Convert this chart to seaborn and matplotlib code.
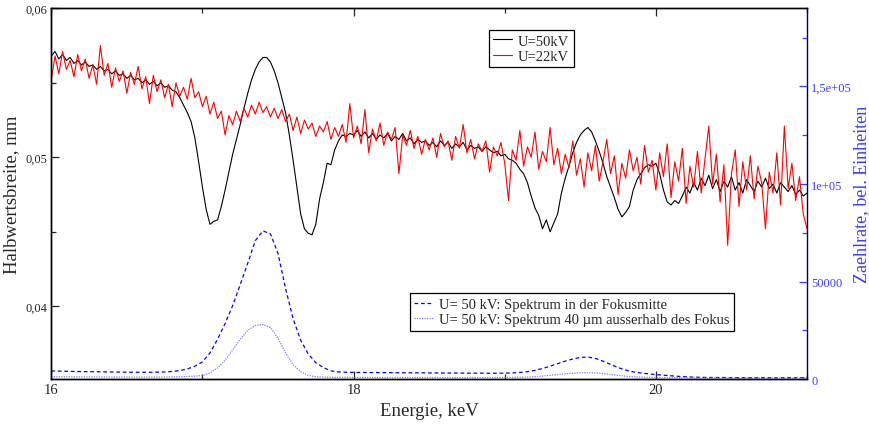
import numpy as np
import pandas as pd
import matplotlib
matplotlib.use('Agg')
import matplotlib.pyplot as plt
from matplotlib.ticker import MultipleLocator, FixedLocator, FixedFormatter
import seaborn as sns

# Halbwertsbreite (mm), sampled every 0.025 keV from 16 to 21 keV
energy = np.linspace(16, 21, 201)

fwhm_50kv = [
    0.0568, 0.0571, 0.0566, 0.0569, 0.0565, 0.0567, 0.0563, 0.0565, 0.0562, 0.0564,
    0.0561, 0.0562, 0.0559, 0.0561, 0.0558, 0.0559, 0.0556, 0.0558, 0.0555, 0.0556,
    0.0553, 0.0555, 0.0552, 0.0553, 0.0550, 0.0552, 0.0549, 0.0551, 0.0548, 0.0550,
    0.0547, 0.0548, 0.0545, 0.0544, 0.0540, 0.0535, 0.0530, 0.0524, 0.0513, 0.0497,
    0.0480, 0.0465, 0.0455, 0.0457, 0.0458, 0.0467, 0.0478, 0.0490, 0.0502, 0.0512,
    0.0522, 0.0533, 0.0543, 0.0552, 0.0559, 0.0564, 0.0567, 0.0567, 0.0564, 0.0558,
    0.0550, 0.0540, 0.0530, 0.0515, 0.0498, 0.0480, 0.0462, 0.0452, 0.0449, 0.0448,
    0.0455, 0.0472, 0.0483, 0.0496, 0.0495, 0.0505, 0.0511, 0.0515, 0.0514, 0.0516,
    0.0515, 0.0518, 0.0514, 0.0517, 0.0513, 0.0516, 0.0512, 0.0515, 0.0513, 0.0516,
    0.0511, 0.0514, 0.0512, 0.0516, 0.0511, 0.0513, 0.0509, 0.0512, 0.0510, 0.0511,
    0.0508, 0.0510, 0.0507, 0.0511, 0.0508, 0.0510, 0.0506, 0.0509, 0.0507, 0.0510,
    0.0505, 0.0508, 0.0506, 0.0507, 0.0504, 0.0507, 0.0505, 0.0503, 0.0504, 0.0501,
    0.0502, 0.0499, 0.0498, 0.0496, 0.0492, 0.0489, 0.0483, 0.0474, 0.0466, 0.0461,
    0.0452, 0.0458, 0.0450, 0.0456, 0.0462, 0.0476, 0.0486, 0.0494, 0.0503, 0.0510,
    0.0515, 0.0518, 0.0520, 0.0517, 0.0511, 0.0504, 0.0496, 0.0487, 0.0480, 0.0473,
    0.0465, 0.0460, 0.0463, 0.0467, 0.0478, 0.0485, 0.0489, 0.0493, 0.0495, 0.0494,
    0.0496, 0.0489, 0.0478, 0.0470, 0.0468, 0.0471, 0.0469, 0.0474, 0.0480, 0.0476,
    0.0483, 0.0478, 0.0486, 0.0481, 0.0488, 0.0479, 0.0485, 0.0477, 0.0484, 0.0480,
    0.0487, 0.0478, 0.0483, 0.0476, 0.0485, 0.0481, 0.0477, 0.0484, 0.0480, 0.0486,
    0.0479, 0.0482, 0.0476, 0.0483, 0.0480, 0.0477, 0.0481, 0.0475, 0.0478, 0.0474,
    0.0476,
]

fwhm_22kv = [
    0.0552, 0.0568, 0.0556, 0.0571, 0.0559, 0.0565, 0.0554, 0.0569, 0.0558, 0.0566,
    0.0553, 0.0562, 0.0549, 0.0575, 0.0555, 0.0563, 0.0547, 0.0560, 0.0551, 0.0558,
    0.0543, 0.0557, 0.0549, 0.0561, 0.0546, 0.0554, 0.0536, 0.0555, 0.0544, 0.0552,
    0.0540, 0.0549, 0.0534, 0.0550, 0.0541, 0.0547, 0.0539, 0.0553, 0.0540, 0.0544,
    0.0534, 0.0541, 0.0529, 0.0537, 0.0526, 0.0531, 0.0515, 0.0528, 0.0522, 0.0531,
    0.0524, 0.0533, 0.0527, 0.0535, 0.0529, 0.0537, 0.0530, 0.0534, 0.0527, 0.0533,
    0.0526, 0.0532, 0.0524, 0.0529, 0.0518, 0.0527, 0.0516, 0.0525, 0.0519, 0.0523,
    0.0514, 0.0521, 0.0517, 0.0524, 0.0512, 0.0520, 0.0514, 0.0522, 0.0510, 0.0536,
    0.0513, 0.0521, 0.0509, 0.0532, 0.0503, 0.0519, 0.0511, 0.0523, 0.0508, 0.0517,
    0.0512, 0.0520, 0.0489, 0.0515, 0.0508, 0.0518, 0.0506, 0.0514, 0.0502, 0.0512,
    0.0505, 0.0513, 0.0500, 0.0516, 0.0507, 0.0511, 0.0498, 0.0514, 0.0506, 0.0522,
    0.0503, 0.0512, 0.0499, 0.0509, 0.0504, 0.0511, 0.0490, 0.0507, 0.0501, 0.0510,
    0.0496, 0.0471, 0.0505, 0.0498, 0.0518, 0.0494, 0.0507, 0.0500, 0.0517, 0.0492,
    0.0504, 0.0497, 0.0520, 0.0495, 0.0506, 0.0489, 0.0502, 0.0493, 0.0511, 0.0488,
    0.0499, 0.0480, 0.0503, 0.0491, 0.0508, 0.0484, 0.0497, 0.0512, 0.0489, 0.0501,
    0.0475, 0.0496, 0.0486, 0.0505, 0.0491, 0.0500, 0.0482, 0.0508, 0.0490, 0.0498,
    0.0478, 0.0503, 0.0487, 0.0509, 0.0473, 0.0497, 0.0484, 0.0506, 0.0469, 0.0494,
    0.0480, 0.0504, 0.0476, 0.0499, 0.0521, 0.0482, 0.0502, 0.0470, 0.0495, 0.0441,
    0.0489, 0.0505, 0.0467, 0.0497, 0.0478, 0.0501, 0.0472, 0.0494, 0.0483, 0.0452,
    0.0490, 0.0476, 0.0503, 0.0468, 0.0521, 0.0479, 0.0496, 0.0471, 0.0487, 0.0462,
    0.0452,
]

# Zaehlrate (counts), sampled every 0.05 keV from 16 to 21 keV
spec_energy = np.linspace(16, 21, 101)

spec_center = [
    4300, 4200, 4100, 4000, 3950, 3900, 3850, 3800, 3750, 3700,
    3650, 3600, 3600, 3600, 3650, 3750, 4000, 4500, 5300, 6700,
    8900, 13500, 20500, 28500, 37700, 48500, 59500, 71000, 76000, 74500,
    64500, 46500, 31000, 20000, 13000, 8500, 6000, 4300, 3800, 3600,
    3500, 3500, 3450, 3450, 3400, 3400, 3350, 3350, 3300, 3300,
    3250, 3250, 3200, 3200, 3200, 3150, 3150, 3150, 3100, 3100,
    3150, 3250, 3500, 3900, 4600, 5500, 6700, 8000, 9300, 10400,
    11200, 11400, 10700, 9300, 7600, 6000, 4700, 3800, 3200, 2800,
    2400, 2100, 1800, 1500, 1300, 1100, 1000, 950, 900, 900,
    850, 850, 850, 800, 800, 800, 800, 800, 800, 800,
    800,
]

spec_40um = [
    1350, 1300, 1300, 1250, 1250, 1200, 1200, 1200, 1150, 1150,
    1150, 1100, 1100, 1100, 1100, 1150, 1200, 1300, 1450, 1600,
    1900, 3200, 5800, 9800, 15000, 20500, 25000, 27600, 28000, 26500,
    21000, 13500, 7500, 3900, 2000, 1300, 1100, 1000, 1000, 950,
    950, 950, 950, 900, 900, 900, 900, 900, 900, 900,
    900, 900, 900, 850, 850, 850, 850, 850, 850, 900,
    900, 950, 1000, 1150, 1350, 1650, 2000, 2400, 2800, 3100,
    3350, 3400, 3250, 2950, 2500, 2000, 1600, 1300, 1100, 1000,
    900, 850, 800, 750, 700, 700, 650, 650, 650, 600,
    600, 600, 600, 600, 600, 600, 600, 600, 600, 600,
    600,
]

x_ticks = [16, 18, 20]
x_labels = ['16', '18', '20']
left_ticks = [0.04, 0.05, 0.06]
left_labels = ['0,04', '0,05', '0,06']
right_ticks = [0, 50000, 100000, 150000]
right_labels = ['0', '50000', '1e+05', '1,5e+05']

blue_text = '#3c3cff'

sns.set_style('ticks')
plt.rcParams['font.family'] = ['Liberation Serif', 'DejaVu Serif']

fig, ax = plt.subplots(figsize=(8.69, 4.27), dpi=100)
fig.subplots_adjust(left=0.059, right=0.9287, bottom=0.1094, top=0.9782)
ax2 = ax.twinx()

sns.lineplot(x=energy, y=fwhm_50kv, ax=ax, color='black', linewidth=0.8,
             label='U=50kV')
sns.lineplot(x=energy, y=fwhm_22kv, ax=ax, color='#ff0000', linewidth=0.8,
             label='U=22kV')
sns.lineplot(x=spec_energy, y=spec_center, ax=ax2, color='#0000ff', linewidth=0.9,
             linestyle=(0, (3, 2.2)),
             label='U= 50 kV: Spektrum in der Fokusmitte')
sns.lineplot(x=spec_energy, y=spec_40um, ax=ax2, color='#7a7aff', linewidth=0.9,
             linestyle=(0, (1, 1)),
             label='U= 50 kV: Spektrum 40 \u00b5m ausserhalb des Fokus')

ax.set_xlim(16, 21)
ax.set_ylim(0.0351, 0.06)
ax2.set_ylim(0, 190000)

ax.xaxis.set_major_locator(FixedLocator(x_ticks))
ax.xaxis.set_major_formatter(FixedFormatter(x_labels))
ax.xaxis.set_minor_locator(MultipleLocator(1))
ax.yaxis.set_major_locator(FixedLocator(left_ticks))
ax.yaxis.set_major_formatter(FixedFormatter(left_labels))
ax.yaxis.set_minor_locator(MultipleLocator(0.005))
ax2.yaxis.set_major_locator(FixedLocator(right_ticks))
ax2.yaxis.set_major_formatter(FixedFormatter(right_labels))
ax2.yaxis.set_minor_locator(MultipleLocator(25000))

ax.tick_params(axis='x', which='both', direction='in', top=True, bottom=True,
               labelsize=10.5, pad=3)
ax.tick_params(axis='x', which='major', length=6, width=0.9)
ax.tick_params(axis='x', which='minor', length=3.5, width=0.9)
ax.tick_params(axis='y', which='both', direction='in', left=True, right=False,
               labelsize=9, pad=3)
ax.tick_params(axis='y', which='major', length=6, width=0.9)
ax.tick_params(axis='y', which='minor', length=3.5, width=0.9)
ax2.tick_params(axis='y', which='both', direction='in', right=True, left=False,
                colors=blue_text, labelsize=9, pad=3)
ax2.tick_params(axis='y', which='major', length=6, width=0.9)
ax2.tick_params(axis='y', which='minor', length=3.5, width=0.9)

for a in (ax, ax2):
    for side in ('left', 'top', 'bottom', 'right'):
        a.spines[side].set_linewidth(1.0)
        a.spines[side].set_color('black')
ax2.spines['right'].set_color('#00005a')
ax.spines['right'].set_visible(False)

ax.set_xlabel('Energie, keV', fontsize=13.5, labelpad=4)
ax.set_ylabel('Halbwertsbreite, mm', fontsize=13.5, labelpad=4)
ax2.set_ylabel('Zaehlrate, bel. Einheiten', fontsize=13, color=blue_text,
               labelpad=1)

h1, l1 = ax.get_legend_handles_labels()
h2, l2 = ax2.get_legend_handles_labels()
if ax.get_legend() is not None:
    ax.get_legend().remove()

legend_style = dict(frameon=True, fancybox=False, framealpha=1, edgecolor='black',
                    fontsize=10.5, handlelength=1.3, handletextpad=0.4,
                    labelspacing=0.15, borderpad=0.3, borderaxespad=0,
                    loc='upper left')
leg1 = ax2.legend(h1, l1, bbox_to_anchor=(0.579, 0.9415), **legend_style)
leg1.get_frame().set_linewidth(0.9)
ax2.add_artist(leg1)
leg2 = ax2.legend(h2, l2, bbox_to_anchor=(0.4746, 0.2318), **legend_style)
leg2.get_frame().set_linewidth(0.9)

fig.savefig('out.png', dpi=100)
